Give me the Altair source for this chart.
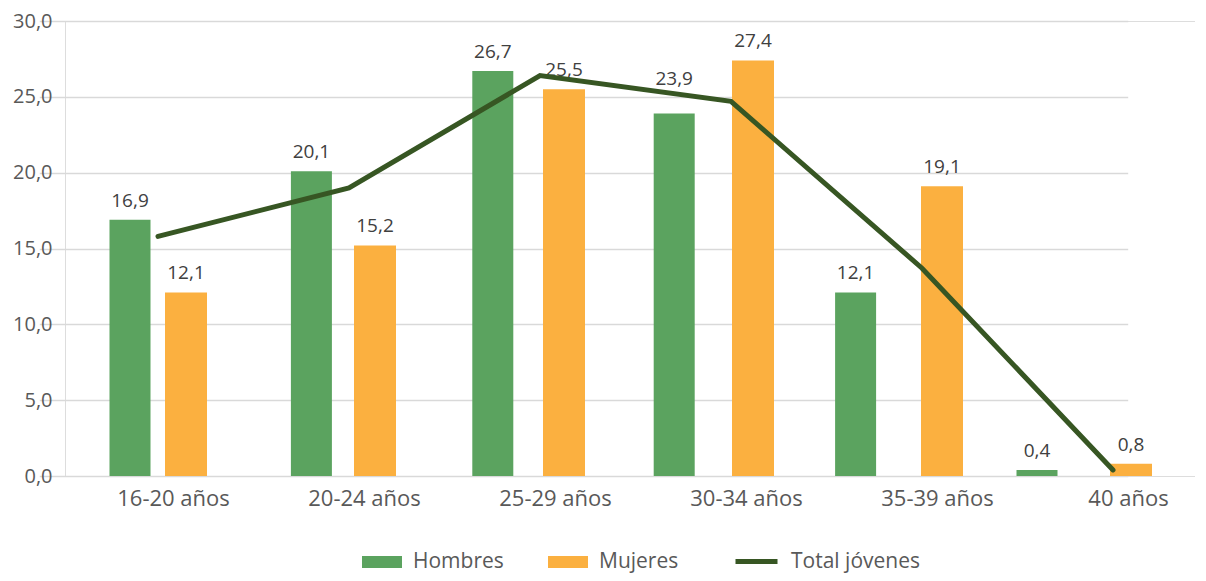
import altair as alt
import pandas as pd

categories = ["16-20 años", "20-24 años", "25-29 años", "30-34 años", "35-39 años", "40 años"]
hombres = [16.9, 20.1, 26.7, 23.9, 12.1, 0.4]
mujeres = [12.1, 15.2, 25.5, 27.4, 19.1, 0.8]
total = [15.8, 19.0, 26.4, 24.7, 13.7, 0.4]
y_ticks = [0, 5, 10, 15, 20, 25, 30]

GREEN = "#5BA35F"
ORANGE = "#FBB040"
DARK = "#375623"
FONT = "Open Sans"

df_h = pd.DataFrame({"cat": categories, "v": hombres, "serie": "Hombres"})
df_m = pd.DataFrame({"cat": categories, "v": mujeres, "serie": "Mujeres"})
df_t = pd.DataFrame({"cat": categories, "v": total, "serie": "Total jóvenes"})

fmt = "replace(format(datum.v,'.1f'),'.',',')"

y_enc = alt.Y(
    "v:Q",
    scale=alt.Scale(domain=[0, 30]),
    axis=alt.Axis(
        values=y_ticks,
        labelExpr="replace(format(datum.value,'.1f'),'.',',')",
        grid=True, gridColor="#d9d9d9", gridWidth=1.5,
        domain=False, ticks=False,
        labelFontSize=20, labelColor="#595959", labelPadding=13,
        labelFont=FONT, title=None,
    ),
)

color_enc = alt.Color(
    "serie:N",
    scale=alt.Scale(domain=["Hombres", "Mujeres"], range=[GREEN, ORANGE]),
    legend=alt.Legend(
        orient="none", legendX=297, legendY=521, direction="horizontal",
        title=None, symbolType="M-1,-0.3H1V0.3H-1Z", symbolSize=1600,
        symbolStrokeWidth=0, labelFontSize=21, labelColor="#595959",
        labelFont=FONT, labelOffset=11, columnPadding=44, padding=0,
        labelLimit=300,
    ),
)

def bar_layer(df, rng, width, lifted=None):
    x_enc = alt.X("cat:N", sort=categories,
                  scale=alt.Scale(type="band", range=rng, paddingInner=0, paddingOuter=0),
                  axis=None)
    bars = alt.Chart(df).mark_bar(width=width).encode(x=x_enc, y=y_enc, color=color_enc)
    base_text = alt.Chart(df).transform_calculate(lbl=fmt)
    style = dict(baseline="alphabetic", fontSize=19, color="#404040", font=FONT)
    if lifted:
        text = base_text.transform_filter(alt.datum.cat != lifted).mark_text(dy=-13, **style).encode(
            x=x_enc, y=y_enc, text="lbl:N")
        text2 = base_text.transform_filter(alt.datum.cat == lifted).mark_text(dy=-29, **style).encode(
            x=x_enc, y=y_enc, text="lbl:N")
        return alt.layer(bars, text, text2)
    text = base_text.mark_text(dy=-13, **style).encode(x=x_enc, y=y_enc, text="lbl:N")
    return alt.layer(bars, text)

green = bar_layer(df_h, [-25.7, 1062.7], 41, lifted="30-34 años")
orange = bar_layer(df_m, [26.5, 1160.5], 42)

line = alt.Chart(df_t).mark_line(strokeWidth=5, strokeCap="round").encode(
    x=alt.X("cat:N", sort=categories,
            scale=alt.Scale(type="point", range=[-2.5, 1143.5], padding=0.5),
            axis=alt.Axis(title=None, ticks=False, domain=False, grid=False,
                          labelAngle=0, labelFontSize=22, labelColor="#595959",
                          labelFont=FONT, labelPadding=12, labelOffset=15)),
    y=y_enc,
    stroke=alt.Stroke(
        "serie:N",
        scale=alt.Scale(domain=["Total jóvenes"], range=[DARK]),
        legend=alt.Legend(
            orient="none", legendX=668, legendY=517, title=None,
            symbolType="stroke", symbolSize=1764, symbolStrokeWidth=5,
            labelFontSize=21, labelColor="#595959", labelFont=FONT,
            labelOffset=11, padding=0, labelLimit=300,
        ),
    ),
)

chart = alt.layer(green, orange, line).resolve_scale(x="independent").properties(
    width=1130, height=455,
    autosize=alt.AutoSizeParams(type="none"),
    padding={"left": 57, "top": 13, "right": 0, "bottom": 97},
).configure_view(stroke=None).configure(font=FONT)

chart.save("out.html", embed_options={"renderer": "svg", "actions": False})
